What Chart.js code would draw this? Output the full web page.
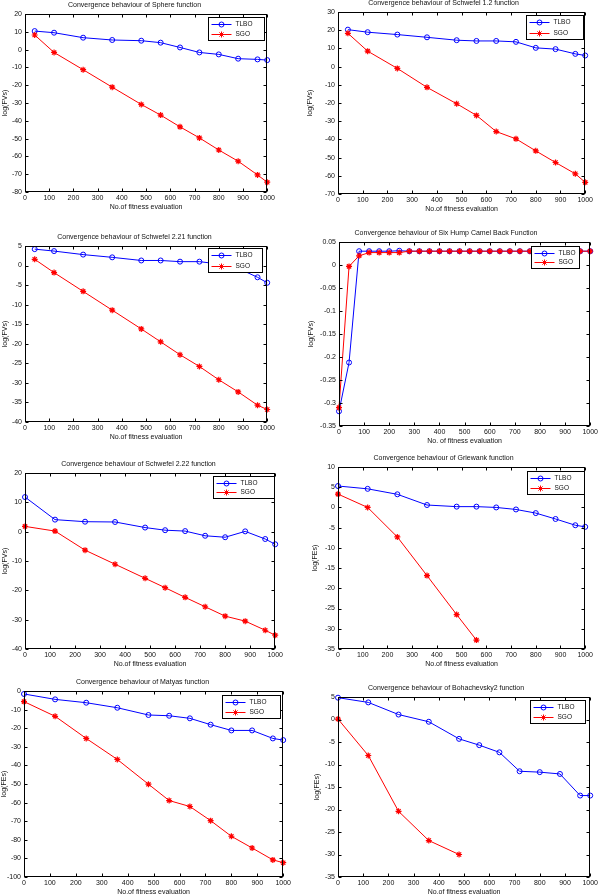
<!DOCTYPE html>
<html>
<head>
<meta charset="utf-8">
<title>Convergence behaviour</title>
<script src="https://cdn.jsdelivr.net/npm/chart.js@4.4.1/dist/chart.umd.min.js"></script>
<style>
  html, body { margin: 0; padding: 0; background: #fff; overflow: hidden; }
  #wrap { position: relative; width: 600px; height: 896px; }
  #wrap canvas { position: absolute; }
</style>
</head>
<body>
<div id="wrap"></div>
<script>
// number of fitness evaluations (x values)
const evalsA = [40, 120, 240, 360, 480, 560, 640, 720, 800, 880, 960, 1000];
const evalsB = [0, 120, 240, 360, 480, 560, 640, 720, 800, 880, 960, 1000];
const evalsCamel = [0, 40, 80, 120, 160, 200, 240, 280, 320, 360, 400, 440, 480,
  520, 560, 600, 640, 680, 720, 760, 800, 840, 880, 920, 960, 1000];
const evalsGriewankSGO = [0, 120, 240, 360, 480, 560];
const evalsBohaSGO = [0, 120, 240, 360, 480];

// Sphere
const sphereTLBO = [10.4, 9.5, 6.7, 5.4, 5.0, 3.9, 1.2, -1.6, -2.7, -5.1, -5.5, -5.9];
const sphereSGO = [8.2, -1.6, -11.3, -21.1, -30.8, -36.8, -43.4, -49.6, -56.4, -62.7, -70.4, -74.5];
// Schwefel 1.2
const schw12TLBO = [20.3, 18.9, 17.6, 16.1, 14.5, 14.1, 14.1, 13.6, 10.3, 9.6, 7.0, 6.1];
const schw12SGO = [18.3, 8.5, -1.0, -11.4, -20.4, -26.8, -35.7, -39.7, -46.3, -52.7, -58.9, -63.6];
// Schwefel 2.21
const schw221TLBO = [4.2, 3.7, 2.8, 2.1, 1.3, 1.3, 1.0, 1.0, 0.4, -0.7, -3.0, -4.4];
const schw221SGO = [1.6, -1.8, -6.6, -11.4, -16.2, -19.5, -22.8, -25.8, -29.2, -32.3, -35.7, -36.8];
// Six Hump Camel Back
const camelTLBO = [-0.318, -0.212, 0.030, 0.030, 0.030, 0.030, 0.031, 0.030, 0.030, 0.030, 0.030, 0.030, 0.030,
  0.030, 0.030, 0.030, 0.030, 0.030, 0.030, 0.030, 0.030, 0.030, 0.030, 0.030, 0.030, 0.030];
const camelSGO = [-0.310, -0.003, 0.020, 0.027, 0.027, 0.027, 0.027, 0.030, 0.030, 0.030, 0.030, 0.030, 0.030,
  0.030, 0.030, 0.030, 0.030, 0.030, 0.030, 0.030, 0.030, 0.030, 0.030, 0.030, 0.030, 0.030];
// Schwefel 2.22
const schw222TLBO = [11.8, 4.1, 3.4, 3.3, 1.4, 0.5, 0.2, -1.4, -1.9, 0.1, -2.5, -4.3];
const schw222SGO = [1.8, 0.2, -6.3, -11.1, -15.9, -19.1, -22.4, -25.6, -28.8, -30.5, -33.6, -35.3];
// Griewank
const griewankTLBO = [5.3, 4.6, 3.25, 0.6, 0.2, 0.2, 0.0, -0.5, -1.4, -2.85, -4.4, -4.8];
const griewankSGO = [3.3, 0.0, -7.3, -16.85, -26.5, -32.8];
// Matyas
const matyasTLBO = [-1.6, -4.5, -6.3, -9.0, -12.9, -13.3, -14.7, -18.1, -21.2, -21.2, -25.5, -26.4];
const matyasSGO = [-5.7, -13.6, -25.5, -36.8, -50.1, -58.9, -62.1, -69.7, -78.1, -84.4, -90.8, -92.3];
// Bohachevsky2
const bohaTLBO = [4.85, 3.8, 1.1, -0.5, -4.3, -5.7, -7.3, -11.5, -11.7, -12.1, -16.9, -16.9];
const bohaSGO = [0.1, -8.0, -20.4, -26.9, -30.0];

const seriesNames = ['TLBO', 'SGO'];

const panels = [
  { title: 'Convergence behaviour of Sphere function', yTitle: 'log(FVs)', xTitle: 'No.of fitness evaluation',
    yMin: -80, yMax: 20, yStep: 10, tlboX: evalsA, tlbo: sphereTLBO, sgoX: evalsA, sgo: sphereSGO },
  { title: 'Convergence behaviour of Schwefel 1.2 function', yTitle: 'log(FVs)', xTitle: 'No.of fitness evaluation',
    yMin: -70, yMax: 30, yStep: 10, tlboX: evalsA, tlbo: schw12TLBO, sgoX: evalsA, sgo: schw12SGO },
  { title: 'Convergence behaviour of Schwefel 2.21 function', yTitle: 'log(FVs)', xTitle: 'No.of fitness evaluation',
    yMin: -40, yMax: 5, yStep: 5, tlboX: evalsA, tlbo: schw221TLBO, sgoX: evalsA, sgo: schw221SGO },
  { title: 'Convergence behaviour of Six Hump Camel Back Function', yTitle: 'log(FVs)', xTitle: 'No. of fitness evaluation',
    yMin: -0.35, yMax: 0.05, yStep: 0.05, tlboX: evalsCamel, tlbo: camelTLBO, sgoX: evalsCamel, sgo: camelSGO },
  { title: 'Convergence behaviour of Schwefel 2.22 function', yTitle: 'log(FVs)', xTitle: 'No.of fitness evaluation',
    yMin: -40, yMax: 20, yStep: 10, tlboX: evalsB, tlbo: schw222TLBO, sgoX: evalsB, sgo: schw222SGO },
  { title: 'Convergence behaviour of Griewank function', yTitle: 'log(FEs)', xTitle: 'No.of fitness evaluation',
    yMin: -35, yMax: 10, yStep: 5, tlboX: evalsB, tlbo: griewankTLBO, sgoX: evalsGriewankSGO, sgo: griewankSGO },
  { title: 'Convergence behaviour of Matyas function', yTitle: 'log(FEs)', xTitle: 'No.of fitness evaluation',
    yMin: -100, yMax: 0, yStep: 10, tlboX: evalsB, tlbo: matyasTLBO, sgoX: evalsB, sgo: matyasSGO },
  { title: 'Convergence behaviour of Bohachevsky2 function', yTitle: 'log(FEs)', xTitle: 'No.of fitness evaluation',
    yMin: -35, yMax: 5, yStep: 5, tlboX: evalsB, tlbo: bohaTLBO, sgoX: evalsBohaSGO, sgo: bohaSGO }
];

// page layout: plot area [left, top, right, bottom], y-title x, legend [gapRight, gapTop, w, h]
const layouts = [
  { cellLeft: 0,   area: [25, 14, 269, 192],  yTitleX: 5,   legend: [3, 3, 56, 23] },
  { cellLeft: 300, area: [338, 12, 587, 194], yTitleX: 310, legend: [2, 3, 57, 24] },
  { cellLeft: 0,   area: [25, 246, 269, 422], yTitleX: 5,   legend: [5, 2, 54, 24] },
  { cellLeft: 300, area: [339, 242, 592, 426], yTitleX: 311, legend: [11, 4, 48, 22] },
  { cellLeft: 0,   area: [25, 473, 277, 649], yTitleX: 5,   legend: [1, 3, 61, 22] },
  { cellLeft: 300, area: [338, 467, 587, 649], yTitleX: 315, legend: [1, 4, 57, 23] },
  { cellLeft: 0,   area: [24, 691, 285, 877], yTitleX: 4,   legend: [3, 4, 58, 23] },
  { cellLeft: 300, area: [338, 697, 592, 877], yTitleX: 317, legend: [5, 3, 55, 23] }
];

Chart.defaults.font.family = '"Liberation Sans", Arial, Helvetica, sans-serif';
Chart.defaults.font.size = 7;
Chart.defaults.color = '#111';

const TOP_H = 16, BOTTOM_H = 20, RIGHT_PAD = 8;

// MATLAB-like box with inward ticks on all sides
const matlabAxes = {
  id: 'matlabAxes',
  afterDatasetsDraw(chart) {
    const { ctx, chartArea: a, scales: { x, y } } = chart;
    const L = Math.round(a.left) + 0.5, R = Math.round(a.right) - 0.5;
    const T = Math.round(a.top) + 0.5, B = Math.round(a.bottom) - 0.5;
    ctx.save();
    ctx.strokeStyle = '#000';
    ctx.lineWidth = 1;
    ctx.beginPath();
    x.ticks.forEach(t => {
      const px = Math.round(x.getPixelForValue(t.value)) + 0.5;
      ctx.moveTo(px, B); ctx.lineTo(px, B - 3);
      ctx.moveTo(px, T); ctx.lineTo(px, T + 3);
    });
    y.ticks.forEach(t => {
      const py = Math.round(y.getPixelForValue(t.value)) + 0.5;
      ctx.moveTo(L, py); ctx.lineTo(L + 3, py);
      ctx.moveTo(R, py); ctx.lineTo(R - 3, py);
    });
    ctx.stroke();
    ctx.strokeRect(L, T, R - L, B - T);
    ctx.restore();
  }
};

// legend box inside the axes, top right
const boxLegend = {
  id: 'boxLegend',
  afterDatasetsDraw(chart, args, opts) {
    const { ctx, chartArea: a } = chart;
    const [gapR, gapT, w, h] = opts.rect;
    const left = Math.round(a.right - gapR - w) + 0.5;
    const top = Math.round(a.top + gapT) + 0.5;
    ctx.save();
    ctx.fillStyle = '#fff';
    ctx.fillRect(left, top, w, h);
    ctx.strokeStyle = '#000';
    ctx.lineWidth = 1;
    ctx.strokeRect(left, top, w, h);
    const rows = [top + h * 0.28, top + h * 0.72];
    chart.data.datasets.forEach((ds, i) => {
      const yy = Math.round(rows[i]) + 0.5;
      ctx.strokeStyle = ds.borderColor;
      ctx.lineWidth = 1;
      ctx.beginPath();
      ctx.moveTo(left + 3, yy);
      ctx.lineTo(left + 23, yy);
      ctx.stroke();
      ctx.fillStyle = 'rgba(0,0,0,0)';
      Chart.helpers.drawPoint(ctx, {
        pointStyle: ds.pointStyle, radius: ds.pointRadius, rotation: 0, borderWidth: 1
      }, left + 13, yy);
      ctx.fillStyle = '#111';
      ctx.font = '6.5px "Liberation Sans", Arial, sans-serif';
      ctx.textBaseline = 'middle';
      ctx.textAlign = 'left';
      ctx.fillText(seriesNames[i], left + 27, yy);
    });
    ctx.restore();
  }
};

// plain MATLAB-like number labels (no thousands separator, no trailing zeros)
function fmtTick(v) {
  return String(Number(v.toFixed(2)));
}

const wrap = document.getElementById('wrap');

panels.forEach((p, idx) => {
  const lay = layouts[idx];
  const [aL, aT, aR, aB] = lay.area;
  const yW = aL - lay.cellLeft;
  const canvas = document.createElement('canvas');
  const cw = aR + RIGHT_PAD - lay.cellLeft;
  const ch = (aB + BOTTOM_H) - (aT - TOP_H);
  canvas.width = cw;
  canvas.height = ch;
  canvas.style.left = lay.cellLeft + 'px';
  canvas.style.top = (aT - TOP_H) + 'px';
  canvas.style.width = cw + 'px';
  canvas.style.height = ch + 'px';
  wrap.appendChild(canvas);

  new Chart(canvas, {
    type: 'line',
    data: {
      datasets: [
        {
          label: seriesNames[0],
          data: p.tlboX.map((x, i) => ({ x, y: p.tlbo[i] })),
          borderColor: '#0000ff',
          backgroundColor: 'rgba(0,0,0,0)',
          borderWidth: 1,
          pointStyle: 'circle',
          pointRadius: 2.5,
          pointBorderWidth: 1,
          pointBorderColor: '#0000ff',
          pointBackgroundColor: 'rgba(0,0,0,0)',
          tension: 0,
          clip: false,
          order: 1
        },
        {
          label: seriesNames[1],
          data: p.sgoX.map((x, i) => ({ x, y: p.sgo[i] })),
          borderColor: '#ff0000',
          backgroundColor: 'rgba(0,0,0,0)',
          borderWidth: 1,
          pointStyle: 'star',
          pointRadius: 3,
          pointBorderWidth: 1.2,
          pointBorderColor: '#ff0000',
          pointBackgroundColor: '#ff0000',
          tension: 0,
          clip: false,
          order: 0
        }
      ]
    },
    options: {
      responsive: false,
      animation: false,
      events: [],
      layout: { padding: { left: 0, top: 0, right: RIGHT_PAD, bottom: 0 } },
      plugins: {
        legend: { display: false },
        tooltip: { enabled: false },
        title: {
          display: true,
          text: p.title,
          color: '#111',
          font: { size: 7, weight: 'normal', lineHeight: 1 },
          padding: { top: 4, bottom: 5 }
        },
        boxLegend: { rect: lay.legend }
      },
      scales: {
        x: {
          type: 'linear',
          min: 0,
          max: 1000,
          grid: { display: false, drawTicks: false },
          border: { display: false },
          ticks: { stepSize: 100, autoSkip: false, maxRotation: 0, padding: 2, color: '#111', callback: fmtTick },
          title: {
            display: true, text: p.xTitle, color: '#111',
            font: { size: 7, lineHeight: 1 }, padding: { top: 0, bottom: 1.5 }
          },
          afterFit(scale) { scale.height = BOTTOM_H; }
        },
        y: {
          type: 'linear',
          min: p.yMin,
          max: p.yMax,
          grid: { display: false, drawTicks: false },
          border: { display: false },
          ticks: { stepSize: p.yStep, autoSkip: false, padding: 3, color: '#111', callback: fmtTick },
          title: {
            display: true, text: p.yTitle, color: '#111',
            font: { size: 7, lineHeight: 1 },
            padding: { top: lay.yTitleX - lay.cellLeft - 3.5, bottom: 0 }
          },
          afterFit(scale) { scale.width = yW; }
        }
      }
    },
    plugins: [matlabAxes, boxLegend]
  });
});
</script>
</body>
</html>
